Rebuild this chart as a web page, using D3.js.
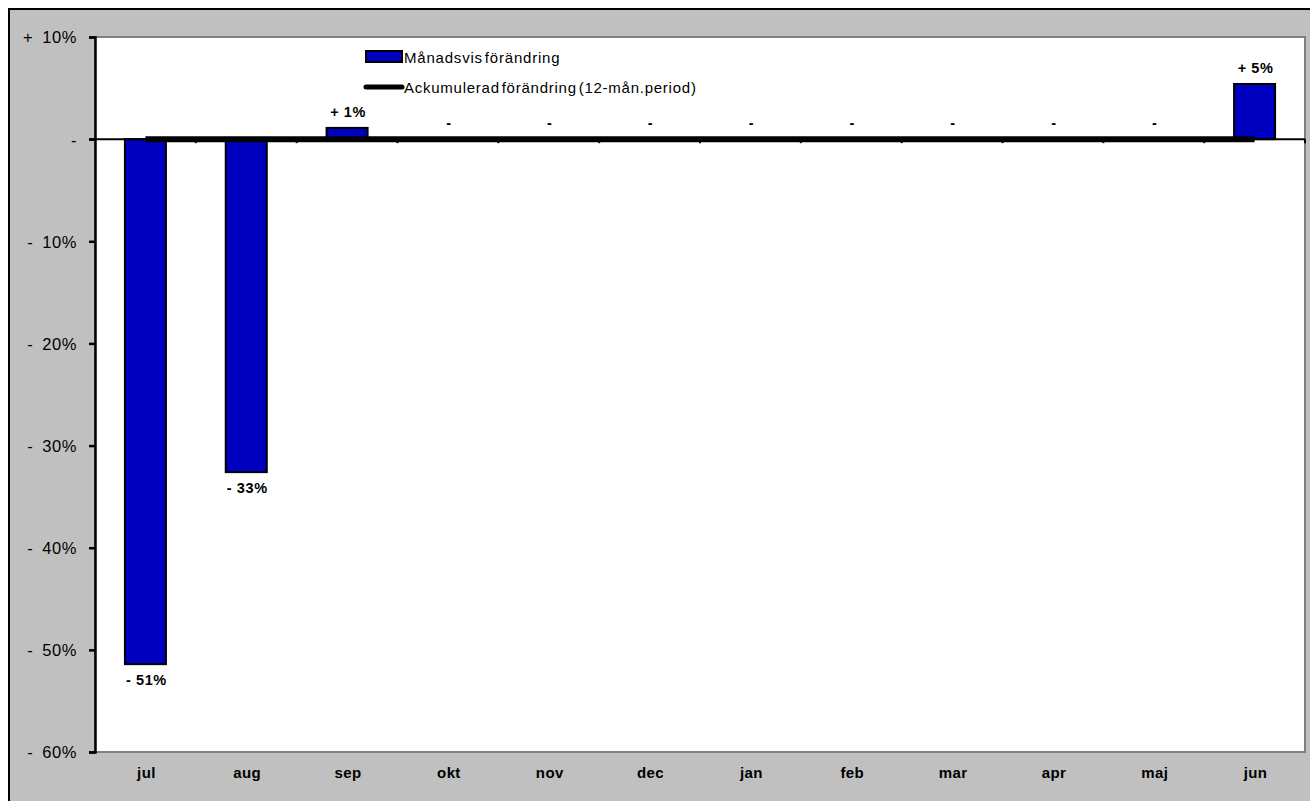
<!DOCTYPE html>
<html>
<head>
<meta charset="utf-8">
<script src="https://cdn.jsdelivr.net/npm/d3@7"></script>
<style>
  html, body { margin: 0; padding: 0; background: #fff; }
  svg { display: block; }
  text { font-family: Arial, "Liberation Sans", sans-serif; }
</style>
</head>
<body>
<svg id="chart" width="1310" height="801"></svg>
<script>
const categories = ["jul","aug","sep","okt","nov","dec","jan","feb","mar","apr","maj","jun"];
const monthlyChange = [-51.4, -32.6, 1.1, 0, 0, 0, 0, 0, 0, 0, 0, 5.4];
const accumulated = [0, 0, 0, 0, 0, 0, 0, 0, 0, 0, 0, 0];
const yTicks = [10, 0, -10, -20, -30, -40, -50, -60];
const seriesNames = ["Månadsvis förändring", "Ackumulerad förändring (12-mån.period)"];

const svg = d3.select("#chart");
const W = 1310, H = 801;
const plot = {left: 95, right: 1305, top: 37, bottom: 752};

// outer background
svg.append("rect").attr("x", 9).attr("y", 9).attr("width", W - 8).attr("height", H - 8)
  .attr("fill", "#c0c0c0").attr("stroke", "#000").attr("stroke-width", 2);

const xOuter = d3.scaleBand().domain(categories).range([plot.left, plot.right]);
const y = d3.scaleLinear().domain([-60, 10]).range([plot.bottom, plot.top]);
const cx = c => xOuter(c) + xOuter.bandwidth() / 2;

// plot area
svg.append("rect").attr("x", plot.left).attr("y", plot.top)
  .attr("width", plot.right - plot.left).attr("height", plot.bottom - plot.top)
  .attr("fill", "#fff").attr("stroke", "#808080").attr("stroke-width", 2);

function fmt(v) {
  const r = Math.round(v);
  if (r === 0) return "-";
  return (r > 0 ? "+ " : "- ") + Math.abs(r) + "%";
}

// bars
svg.append("g").selectAll("rect").data(monthlyChange).join("rect")
  .attr("x", (d, i) => cx(categories[i]) - 20.5)
  .attr("width", 41)
  .attr("y", d => y(Math.max(0, d)))
  .attr("height", d => Math.abs(y(d) - y(0)))
  .attr("fill", "#0000c0").attr("stroke", "#000").attr("stroke-width", 2)
  .style("display", d => d === 0 ? "none" : null);

// y axis
const yAxis = svg.append("g").attr("transform", `translate(${plot.left},0)`)
  .call(d3.axisLeft(y).tickValues(yTicks).tickSize(6).tickPadding(12)
    .tickFormat(d => d === 0 ? "-" : (d > 0 ? "+\u2002" : "-\u2002") + Math.abs(d) + "%"));
yAxis.attr("font-size", null).attr("font-family", null);
yAxis.select(".domain").attr("stroke", "#000").attr("stroke-width", 2.5);
yAxis.selectAll(".tick line").attr("stroke", "#000").attr("stroke-width", 2.5);
yAxis.selectAll(".tick text").attr("fill", "#000")
  .style("font-size", "16.5px").style("letter-spacing", "0.6px")
  .attr("dy", "0.36em");

// x axis at zero
const xAxisG = svg.append("g").attr("transform", `translate(0,${y(0)})`);
xAxisG.append("line").attr("x1", plot.left - 6).attr("x2", plot.right)
  .attr("stroke", "#000").attr("stroke-width", 2);
xAxisG.selectAll("line.tk").data(categories).join("line").attr("class", "tk")
  .attr("x1", d => xOuter(d) + xOuter.step())
  .attr("x2", d => xOuter(d) + xOuter.step())
  .attr("y1", 0).attr("y2", 4).attr("stroke", "#000").attr("stroke-width", 2);

// category labels at bottom
svg.append("g").selectAll("text").data(categories).join("text")
  .attr("x", d => cx(d) + 1)
  .attr("y", 778)
  .attr("text-anchor", "middle").style("font-size", "15px").attr("font-weight", "bold")
  .style("letter-spacing", "0.4px")
  .text(d => d);

// accumulated line
const line = d3.line().x((d, i) => cx(categories[i])).y(d => y(d));
svg.append("path").datum(accumulated).attr("d", line)
  .attr("fill", "none").attr("stroke", "#000").attr("stroke-width", 6);

// data labels
svg.append("g").selectAll("text").data(monthlyChange).join("text")
  .attr("x", (d, i) => cx(categories[i]) + 1)
  .attr("y", d => d < 0 ? y(d) + 21 : y(d) - 11)
  .attr("text-anchor", "middle").style("font-size", "14.5px").attr("font-weight", "bold")
  .style("letter-spacing", "0.6px")
  .text(d => fmt(d));

// legend
const lg = svg.append("g");
lg.append("rect").attr("x", 366).attr("y", 51).attr("width", 36).attr("height", 11)
  .attr("fill", "#0000c0").attr("stroke", "#000").attr("stroke-width", 2);
lg.append("line").attr("x1", 366).attr("x2", 402).attr("y1", 87).attr("y2", 87)
  .attr("stroke", "#000").attr("stroke-width", 5).attr("stroke-linecap", "round");
lg.append("text").attr("x", 404).attr("y", 63).style("font-size", "15px")
  .style("letter-spacing", "0.8px").attr("word-spacing", -3).text(seriesNames[0]);
lg.append("text").attr("x", 404).attr("y", 93).style("font-size", "15px")
  .style("letter-spacing", "0.75px").attr("word-spacing", -3).text(seriesNames[1]);
</script>
</body>
</html>
